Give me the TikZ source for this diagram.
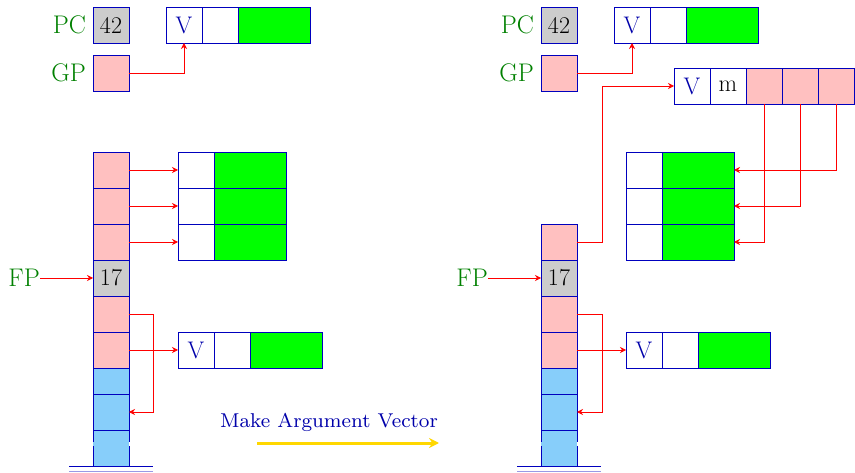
\documentclass[tikz,border=0pt]{standalone}
\usepackage{graphicx}
\usetikzlibrary{arrows.meta}
\definecolor{cpink}{RGB}{255,192,192}
\definecolor{cgreen}{RGB}{0,255,0}
\definecolor{cgrey}{RGB}{204,204,204}
\definecolor{cblue}{RGB}{135,206,250}
\definecolor{cborder}{RGB}{0,0,190}
\definecolor{clabel}{RGB}{0,128,0}
\definecolor{ctext}{RGB}{0,0,170}
\definecolor{cgold}{RGB}{255,215,0}
\begin{document}
\begin{tikzpicture}[x=1pt,y=-1pt,
  cell/.style={draw=cborder, line width=0.9pt, minimum width=36pt, minimum height=36pt,
    inner sep=0pt, outer sep=0pt, anchor=north west, font=\fontsize{24}{28}\selectfont},
  wide/.style={cell, minimum width=72pt, fill=cgreen},
  pinkc/.style={cell, fill=cpink},
  greyc/.style={cell, fill=cgrey},
  bluec/.style={cell, fill=cblue},
  vt/.style={text=ctext},
  lbl/.style={text=clabel, font=\fontsize{25.5}{30}\selectfont, inner sep=0pt, anchor=east},
  arr/.style={draw=red, line width=0.8pt, -{Stealth[length=6pt,width=6pt]}},
  base/.style={draw=cborder, line width=0.9pt}
]
\useasboundingbox (0,0) rectangle (855,473);

% ================= LEFT =================
\node[lbl] (pcL) at (86,25) {PC};
\node[greyc] (pcbL) at (93,7) {42};
\node[lbl] (gpL) at (86,73) {GP};
\node[pinkc] (gpbL) at (93,55) {};
\node[cell, vt] (tvL1) at (166,7) {V};
\node[cell] (tvL2) at (202,7) {};
\node[wide] (tvL3) at (238,7) {};
\draw[arr] (gpbL.east) -| (tvL1.south);

% stack
\node[pinkc] (sL1) at (93,152) {};
\node[pinkc] (sL2) at (93,188) {};
\node[pinkc] (sL3) at (93,224) {};
\node[greyc] (sL4) at (93,260) {17};
\node[pinkc] (sL5) at (93,296) {};
\node[pinkc] (sL6) at (93,332) {};
\node[bluec, minimum height=26pt] (sL7) at (93,368) {};
\node[bluec] (sL8) at (93,394) {};
\node[cell, draw=none, fill=cblue] (sL9) at (93,430) {};
\draw[base] (93,430) -- (129,430);
\draw[base] (93,430) -- (93,442) (93,446) -- (93,466);
\draw[base] (129,430) -- (129,442) (129,446) -- (129,466);
\draw[base] (69,466.5) -- (153,466.5);
\draw[draw=cborder!40, line width=0.9pt] (69,471) -- (153,471);

\node[lbl] (fpL) at (40,278) {FP};
\draw[arr] (fpL.east) -- (sL4.west);

% boxes
\node[cell] (bL1) at (178,152) {};
\node[wide] (gL1) at (214,152) {};
\node[cell] (bL2) at (178,188) {};
\node[wide] (gL2) at (214,188) {};
\node[cell] (bL3) at (178,224) {};
\node[wide] (gL3) at (214,224) {};
\draw[arr] (sL1.east) -- (bL1.west);
\draw[arr] (sL2.east) -- (bL2.west);
\draw[arr] (sL3.east) -- (bL3.west);

% lower vector
\node[cell, vt] (lvL1) at (178,332) {V};
\node[cell] (lvL2) at (214,332) {};
\node[wide] (lvL3) at (250,332) {};
\draw[arr] (sL6.east) -- (lvL1.west);
\draw[arr] (sL5.east) -- ++(24,0) |- (sL8.east);

% caption
\node[text=ctext, inner sep=0pt] (cap) at (329,422) {\fontsize{8}{9}\selectfont\scalebox{2.5}{Make Argument Vector}};
\coordinate (gA) at (257,443);
\coordinate (gB) at (439,443);
\draw[cgold, line width=3pt, -{Stealth[length=10pt,width=10pt]}] (gA) -- (gB);

% ================= RIGHT =================
\node[lbl] (pcR) at (534,25) {PC};
\node[greyc] (pcbR) at (541,7) {42};
\node[lbl] (gpR) at (534,73) {GP};
\node[pinkc] (gpbR) at (541,55) {};
\node[cell, vt] (tvR1) at (614,7) {V};
\node[cell] (tvR2) at (650,7) {};
\node[wide] (tvR3) at (686,7) {};
\draw[arr] (gpbR.east) -| (tvR1.south);

% new vector
\node[cell, vt] (nv1) at (674,68) {V};
\node[cell] (nv2) at (710,68) {m};
\node[pinkc] (nv3) at (746,68) {};
\node[pinkc] (nv4) at (782,68) {};
\node[pinkc] (nv5) at (818,68) {};

% stack
\node[pinkc] (sR0) at (541,224) {};
\node[greyc] (sR4) at (541,260) {17};
\node[pinkc] (sR5) at (541,296) {};
\node[pinkc] (sR6) at (541,332) {};
\node[bluec, minimum height=26pt] (sR7) at (541,368) {};
\node[bluec] (sR8) at (541,394) {};
\node[cell, draw=none, fill=cblue] (sR9) at (541,430) {};
\draw[base] (541,430) -- (577,430);
\draw[base] (541,430) -- (541,442) (541,446) -- (541,466);
\draw[base] (577,430) -- (577,442) (577,446) -- (577,466);
\draw[base] (517,466.5) -- (601,466.5);
\draw[draw=cborder!40, line width=0.9pt] (517,471) -- (601,471);

\node[lbl] (fpR) at (488,278) {FP};
\draw[arr] (fpR.east) -- (sR4.west);

\draw[arr] (sR0.east) -- ++(25,0) |- (nv1.west);

% boxes
\node[cell] (bR1) at (626,152) {};
\node[wide] (gR1) at (662,152) {};
\node[cell] (bR2) at (626,188) {};
\node[wide] (gR2) at (662,188) {};
\node[cell] (bR3) at (626,224) {};
\node[wide] (gR3) at (662,224) {};
\draw[arr] (nv3.south) |- (gR3.east);
\draw[arr] (nv4.south) |- (gR2.east);
\draw[arr] (nv5.south) |- (gR1.east);

% lower vector
\node[cell, vt] (lvR1) at (626,332) {V};
\node[cell] (lvR2) at (662,332) {};
\node[wide] (lvR3) at (698,332) {};
\draw[arr] (sR6.east) -- (lvR1.west);
\draw[arr] (sR5.east) -- ++(25,0) |- (sR8.east);
\end{tikzpicture}
\end{document}
